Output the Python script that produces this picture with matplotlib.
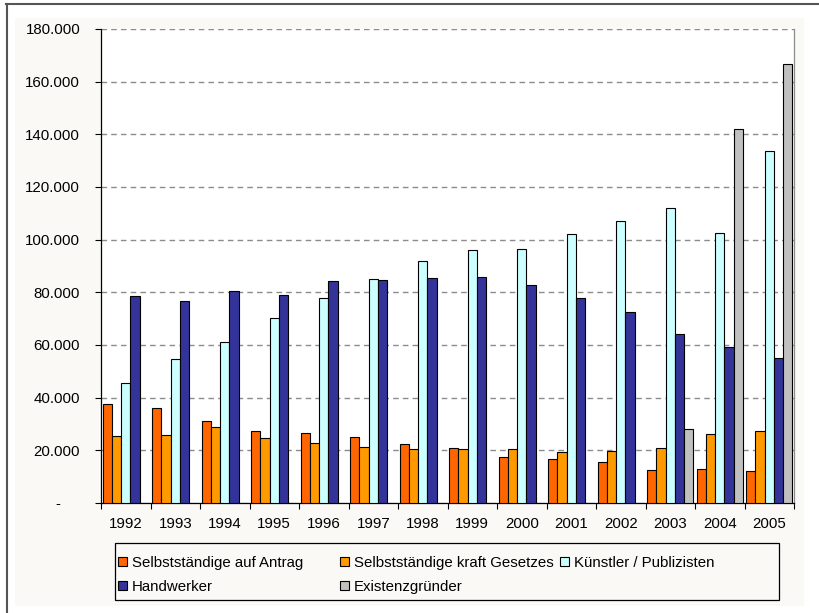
import matplotlib
matplotlib.use("Agg")
import matplotlib.pyplot as plt
from matplotlib.patches import Rectangle, Patch
from matplotlib.lines import Line2D
from matplotlib.ticker import FixedLocator, FuncFormatter
from matplotlib.transforms import ScaledTranslation
import numpy as np

years = ["1992", "1993", "1994", "1995", "1996", "1997", "1998",
         "1999", "2000", "2001", "2002", "2003", "2004", "2005"]
antrag = [37700, 36000, 31000, 27300, 26600, 24900, 22400,
          20800, 17500, 16700, 15400, 12700, 13000, 12200]
gesetz = [25400, 25700, 29000, 24600, 22900, 21100, 20400,
          20400, 20400, 19500, 19600, 20800, 26100, 27500]
kuenstler = [45700, 54800, 61300, 70400, 77700, 85100, 92000,
             96100, 96500, 102300, 107100, 112200, 102700, 133700]
handwerker = [78500, 76800, 80500, 78900, 84300, 84700, 85400,
              85800, 82700, 77700, 72400, 64200, 59200, 55200]
existenz = [0, 0, 0, 0, 0, 0, 0, 0, 0, 0, 0, 28200, 142000, 166600]

series_names = ["Selbstständige auf Antrag", "Selbstständige kraft Gesetzes",
                "Künstler / Publizisten", "Handwerker", "Existenzgründer"]
series_values = [antrag, gesetz, kuenstler, handwerker, existenz]
colors = ["#FF6600", "#FF9900", "#CCFFFF", "#333399", "#C0C0C0"]

plt.rcParams["font.family"] = ["Liberation Sans", "DejaVu Sans"]
W, H = 819, 613
FS = 10.8
fig = plt.figure(figsize=(W / 100, H / 100), dpi=100, facecolor="white")

def fx(px):
    return px / W

def fy(py):
    return (H - py) / H

# light background panel and outer border lines
fig.add_artist(Rectangle((fx(15), fy(606)), fx(804) - fx(15), fy(18) - fy(606),
                         transform=fig.transFigure, facecolor="#FAF9F6",
                         edgecolor="none", zorder=0))
fig.add_artist(Line2D([fx(6), 1.0], [fy(4), fy(4)], transform=fig.transFigure,
                      color="#555555", linewidth=1.5, zorder=1))
fig.add_artist(Line2D([fx(6.5), fx(6.5)], [fy(4), 0.0], transform=fig.transFigure,
                      color="#555555", linewidth=1.5, zorder=1))

ax = fig.add_axes([fx(101), fy(503), fx(794) - fx(101), fy(29) - fy(503)])
ax.set_facecolor("white")

n = len(years)
x = np.arange(n) + 0.5
w = 0.186
for j, (vals, col) in enumerate(zip(series_values, colors)):
    ax.bar(x + (j - 2) * w, vals, width=w, color=col, edgecolor="black",
           linewidth=0.8, zorder=3, label=series_names[j])

ax.set_xlim(0, n)
ax.set_ylim(0, 180000)

yt = list(range(0, 180001, 20000))
ax.yaxis.set_major_locator(FixedLocator(yt))
ax.yaxis.set_major_formatter(FuncFormatter(
    lambda v, p: "-" if v == 0 else f"{int(v):,}".replace(",", ".")))
ax.tick_params(axis="y", direction="out", length=4.5, width=0.8,
               labelsize=FS, pad=10.5, colors="black")

ax.set_xticks(x)
ax.set_xticklabels(years)
ax.set_xticks(np.arange(0, n + 1), minor=True)
ax.tick_params(axis="x", which="major", length=0, labelsize=FS, pad=10)
ax.tick_params(axis="x", which="minor", direction="out", length=4.5, width=0.8)

for v in yt[1:]:
    ax.axhline(v, color="#8C8C8C", linewidth=1.0, linestyle=(0, (4, 3)), zorder=1)

for s in ["left", "bottom"]:
    ax.spines[s].set_color("black")
    ax.spines[s].set_linewidth(0.9)
ax.spines["top"].set_visible(False)
ax.spines["right"].set_color("#8C8C8C")
ax.spines["right"].set_linewidth(0.9)

# shift the "-" zero label to the left like the accounting format
fig.canvas.draw()
lbl0 = ax.get_yticklabels()[0]
lbl0.set_transform(lbl0.get_transform() + ScaledTranslation(-20 / 100, 0, fig.dpi_scale_trans))

# legend box
fig.add_artist(Rectangle((fx(114.5), fy(600)), fx(779) - fx(114.5), fy(543) - fy(600),
                         transform=fig.transFigure, facecolor="#FAF9F6",
                         edgecolor="black", linewidth=0.9, zorder=2))

handles = [Patch(facecolor=c, edgecolor="black", linewidth=0.8) for c in colors]
columns = [([0, 3], 118), ([1, 4], 340), ([2], 560)]
for idxs, xpx in columns:
    leg = fig.legend([handles[i] for i in idxs], [series_names[i] for i in idxs],
                     loc="upper left", bbox_to_anchor=(fx(xpx), fy(556)),
                     bbox_transform=fig.transFigure, frameon=False, ncol=1,
                     fontsize=FS, handlelength=0.6, handleheight=0.6,
                     handletextpad=0.3, labelspacing=0.66, borderpad=0,
                     borderaxespad=0)
    leg.set_zorder(3)

fig.savefig("out.png", dpi=100, facecolor="white")
